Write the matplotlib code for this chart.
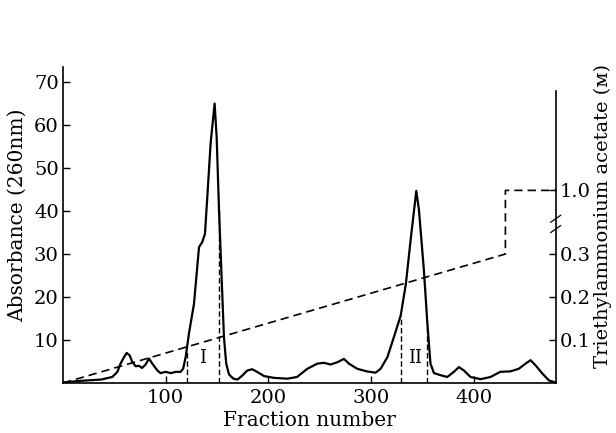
import numpy as np
import matplotlib
matplotlib.use("Agg")
import matplotlib.pyplot as plt
import matplotlib.transforms as mtransforms

# ---- data ----
fraction = [1, 17, 37, 48, 53, 56, 59.4, 62, 65, 67.5, 70.8, 74, 77, 80.5, 83.8, 87,
            92, 95, 100, 105, 110, 114.6, 117, 119.5, 122.7, 127.6, 132.5, 135.7, 138.3,
            140.6, 143.8, 147.7, 149.7, 152, 154.5, 156.8, 159, 161.7, 166, 170, 175,
            179.5, 184.4, 189, 196, 205.5, 218.5, 228, 238, 247.7, 254, 260.7, 267,
            273.7, 278.6, 286.7, 296, 304.5, 309.4, 316, 322.4, 329, 334, 339, 344.2,
            346.8, 351.6, 355, 358, 361.4, 368, 374.4, 380.8, 385.7, 390.6, 397, 406.8,
            416.6, 426, 435.7, 444, 450.6, 455.5, 460.4, 467, 473.4, 480]
absorbance = [0.15, 0.5, 0.8, 1.4, 2.6, 4.5, 6.0, 7.0, 6.4, 4.9, 3.9, 4.0, 3.5, 4.3, 5.7, 4.5,
              2.9, 2.3, 2.6, 2.3, 2.6, 2.6, 3.3, 6.0, 11.5, 18.4, 31.6, 32.8, 34.7,
              43.3, 55.7, 65.0, 57.2, 40.2, 24.7, 10.7, 4.5, 2.0, 1.0, 0.8, 1.8,
              2.9, 3.2, 2.6, 1.6, 1.2, 1.0, 1.4, 3.3, 4.5, 4.7, 4.3, 4.8,
              5.6, 4.5, 3.3, 2.7, 2.4, 3.3, 6.0, 10.7, 15.7, 23.0, 34.0, 44.7,
              40.2, 26.2, 13.8, 4.5, 2.3, 1.8, 1.4, 2.6, 3.7, 2.9, 1.4, 0.9,
              1.4, 2.6, 2.7, 3.3, 4.5, 5.3, 4.1, 2.2, 0.6, 0.1]

grad_fraction = [0, 431, 431, 480]
grad_molarity = [0.0, 0.3, 1.0, 1.0]

cut_fractions = [120.5, 152, 329, 355]
peak_labels = ["I", "II"]
peak_label_x = [136, 342.5]
peak_label_y = [5.7, 5.7]

x_ticks = [100, 200, 300, 400]
abs_ticks = [10, 20, 30, 40, 50, 60, 70]
tea_ticks = [0.1, 0.2, 0.3, 1.0]
tea_ticklabels = ["0.1", "0.2", "0.3", "1.0"]

# ---- broken right scale: linear up to 0.3 M, compressed above ----
BREAK = 0.3
SQUEEZE = 0.148 / 0.7


def fwd(m):
    m = np.asarray(m, dtype=float)
    return np.where(m <= BREAK, m, BREAK + (m - BREAK) * SQUEEZE)


def inv(d):
    d = np.asarray(d, dtype=float)
    return np.where(d <= BREAK, d, BREAK + (d - BREAK) / SQUEEZE)


plt.rcParams["font.family"] = ["DejaVu Serif", "DejaVu Sans"]

W, H = 616, 433
fig = plt.figure(figsize=(W / 100, H / 100), dpi=100)
x0, x1, y0, y1 = 63, 555.7, 383, 67
ax = fig.add_axes([x0 / W, (H - y0) / H, (x1 - x0) / W, (y0 - y1) / H])

ax.plot(fraction, absorbance, color="black", lw=1.6, solid_joinstyle="round")
ax.set_xlim(0, 480)
ax.set_ylim(0, 73.5)

# fraction-cut markers
for c in cut_fractions:
    top = np.interp(c, fraction, absorbance)
    ax.plot([c, c], [0, top], color="black", lw=1.0, ls=(0, (4, 2)))

for lab, lx, ly in zip(peak_labels, peak_label_x, peak_label_y):
    ax.text(lx, ly, lab, ha="center", va="center", fontsize=13)

ax.set_xticks(x_ticks)
ax.set_yticks(abs_ticks)
ax.tick_params(direction="in", length=5, width=1, labelsize=14, pad=4)
ax.tick_params(axis="y", pad=3)
for s in ["top", "right"]:
    ax.spines[s].set_visible(False)
for s in ["left", "bottom"]:
    ax.spines[s].set_linewidth(1.2)

ax.set_xlabel("Fraction number", fontsize=14.5, labelpad=3)
ax.set_ylabel("Absorbance (260nm)", fontsize=14.5, labelpad=5)
ax.yaxis.label.set_y(0.53)

# right axis (triethylammonium acetate)
ax2 = ax.twinx()
ax2.set_yscale("function", functions=(fwd, inv))
ax2.set_ylim(0, float(inv(0.735)))
ax2.plot(grad_fraction, grad_molarity, color="black", lw=1.2, ls=(0, (5, 3)))
ax2.set_yticks(tea_ticks)
ax2.set_yticklabels(tea_ticklabels)
ax2.yaxis.set_minor_locator(matplotlib.ticker.NullLocator())
ax2.tick_params(direction="in", length=5, width=1, labelsize=14, pad=3)
for s in ["top", "left", "bottom"]:
    ax2.spines[s].set_visible(False)
ax2.spines["right"].set_linewidth(1.2)
ax2.spines["right"].set_bounds(0, float(inv(0.680)))
ax2.set_ylabel("Triethylammonium acetate (ᴍ)", fontsize=14, labelpad=2)
ax2.yaxis.label.set_y(0.53)

# axis break mark on the right spine
trans = mtransforms.blended_transform_factory(ax2.transAxes, ax2.transData)
for dy in (-0.012, 0.012):
    ax2.plot([0.99, 1.01], [float(inv(0.37 + dy - 0.008)), float(inv(0.37 + dy + 0.008))],
             transform=trans, color="black", lw=0.9, clip_on=False)

fig.savefig("out.png", dpi=100, facecolor="white")
